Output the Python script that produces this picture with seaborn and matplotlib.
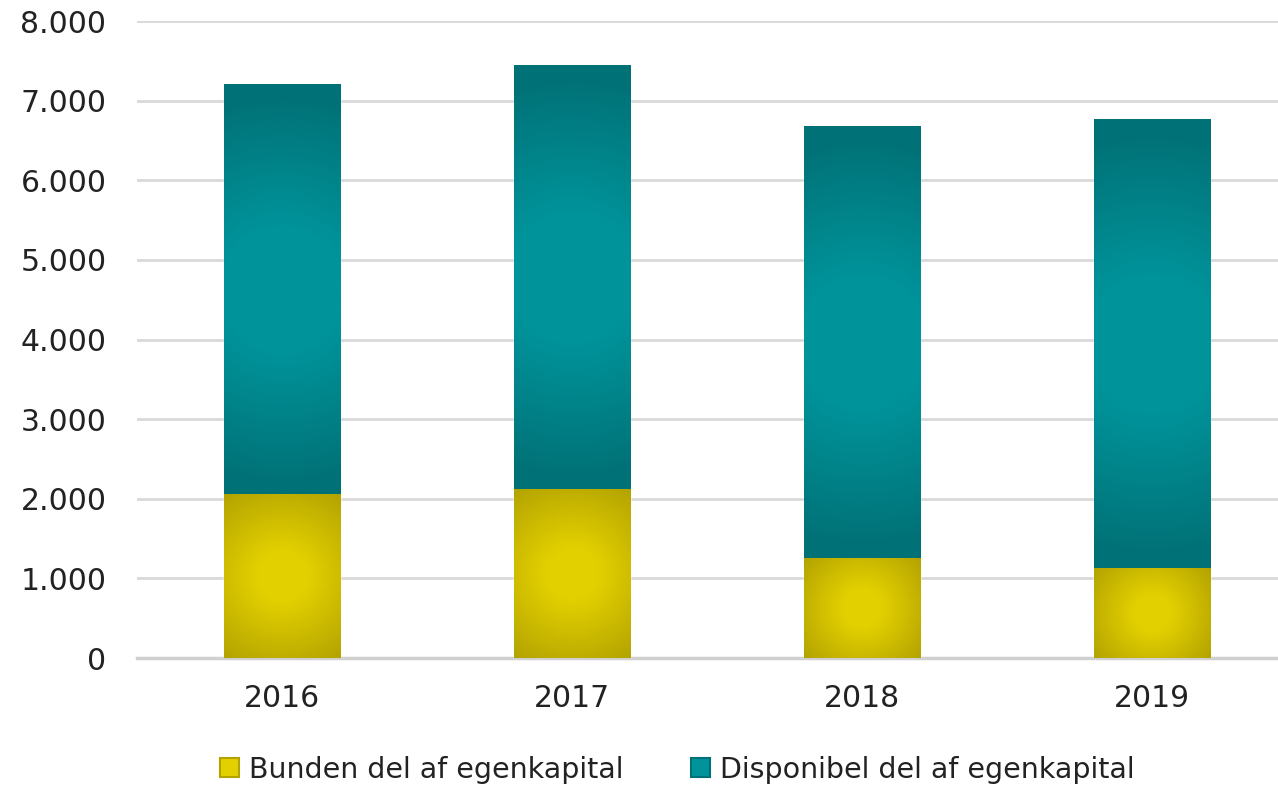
import numpy as np
import pandas as pd
import seaborn as sns
import matplotlib.pyplot as plt
from matplotlib.colors import LinearSegmentedColormap
from matplotlib.patches import Patch
from matplotlib.ticker import FuncFormatter

years = ["2016", "2017", "2018", "2019"]
bunden = [2050, 2110, 1245, 1120]
disponibel = [5160, 5330, 5435, 5640]
labels = ["Bunden del af egenkapital", "Disponibel del af egenkapital"]

yellow_mid, yellow_edge = "#e3d000", "#b3a300"
teal_mid, teal_edge = "#00939a", "#007277"

total = [b + d for b, d in zip(bunden, disponibel)]
df = pd.DataFrame({"year": years, "bunden": bunden, "total": total})

sns.set_style("white")
plt.rcParams["font.family"] = ["DejaVu Sans"]

fig = plt.figure(figsize=(12.78, 7.87), dpi=100)
ax = fig.add_axes([0.1072, 0.1639, 0.908, 0.8094])

sns.barplot(data=df, x="year", y="total", color=teal_mid, width=0.4,
            saturation=1, ax=ax, zorder=2)
sns.barplot(data=df, x="year", y="bunden", color=yellow_mid, width=0.4,
            saturation=1, ax=ax, zorder=3)

ax.set_xlim(-0.5, 3.5)
ax.set_ylim(0, 8000)

cm_y = LinearSegmentedColormap.from_list(
    "y", [(0, yellow_mid), (0.25, yellow_mid), (1, yellow_edge)])
cm_t = LinearSegmentedColormap.from_list(
    "t", [(0, teal_mid), (0.3, teal_mid), (0.9, teal_edge), (1, teal_edge)])

# radial gradient (round in pixels) inside every segment
n = len(years)
for i, p in enumerate(ax.patches):
    x0 = p.get_x()
    x1 = x0 + p.get_width()
    if i < n:
        lo, hi, cmap, z = bunden[i], total[i], cm_t, 2.5
    else:
        lo, hi, cmap, z = 0, bunden[i - n], cm_y, 3.5
    (px0, py0), (px1, py1) = ax.transData.transform([(x0, lo), (x1, hi)])
    w, h = abs(px1 - px0), abs(py1 - py0)
    ny, nx = max(int(h), 2), max(int(w), 2)
    dy, dx = np.mgrid[-h / 2:h / 2:ny * 1j, -w / 2:w / 2:nx * 1j]
    rr = np.sqrt(dx**2 + dy**2) / np.hypot(w / 2, h / 2)
    ax.imshow(rr, cmap=cmap, vmin=0, vmax=1, extent=(x0, x1, lo, hi),
              aspect="auto", interpolation="bilinear", zorder=z)

ax.set_xlim(-0.5, 3.5)
ax.set_ylim(0, 8000)
ax.set_yticks(range(0, 8001, 1000))
ax.yaxis.set_major_formatter(FuncFormatter(lambda v, _: f"{int(v):,}".replace(",", ".")))
ax.grid(axis="y", color="#d9d9d9", linewidth=2, zorder=0)
ax.set_axisbelow(True)
for s in ["top", "right", "left"]:
    ax.spines[s].set_visible(False)
ax.spines["bottom"].set_color("#d0d0d0")
ax.spines["bottom"].set_linewidth(2.5)
ax.set_xlabel("")
ax.set_ylabel("")
ax.tick_params(axis="both", length=0, labelsize=21.5, labelcolor="#222222")
ax.tick_params(axis="y", pad=22)
ax.tick_params(axis="x", pad=19)

handles = [Patch(facecolor=yellow_mid, edgecolor=yellow_edge, linewidth=1.5),
           Patch(facecolor=teal_mid, edgecolor=teal_edge, linewidth=1.5)]
fig.legend(handles, labels, loc="center", bbox_to_anchor=(0.530, 0.022),
           ncol=2, frameon=False, fontsize=20.5, handlelength=0.65, handleheight=0.65,
           handletextpad=0.35, columnspacing=2.4, labelcolor="#222222")

fig.savefig("out.png", dpi=100)
